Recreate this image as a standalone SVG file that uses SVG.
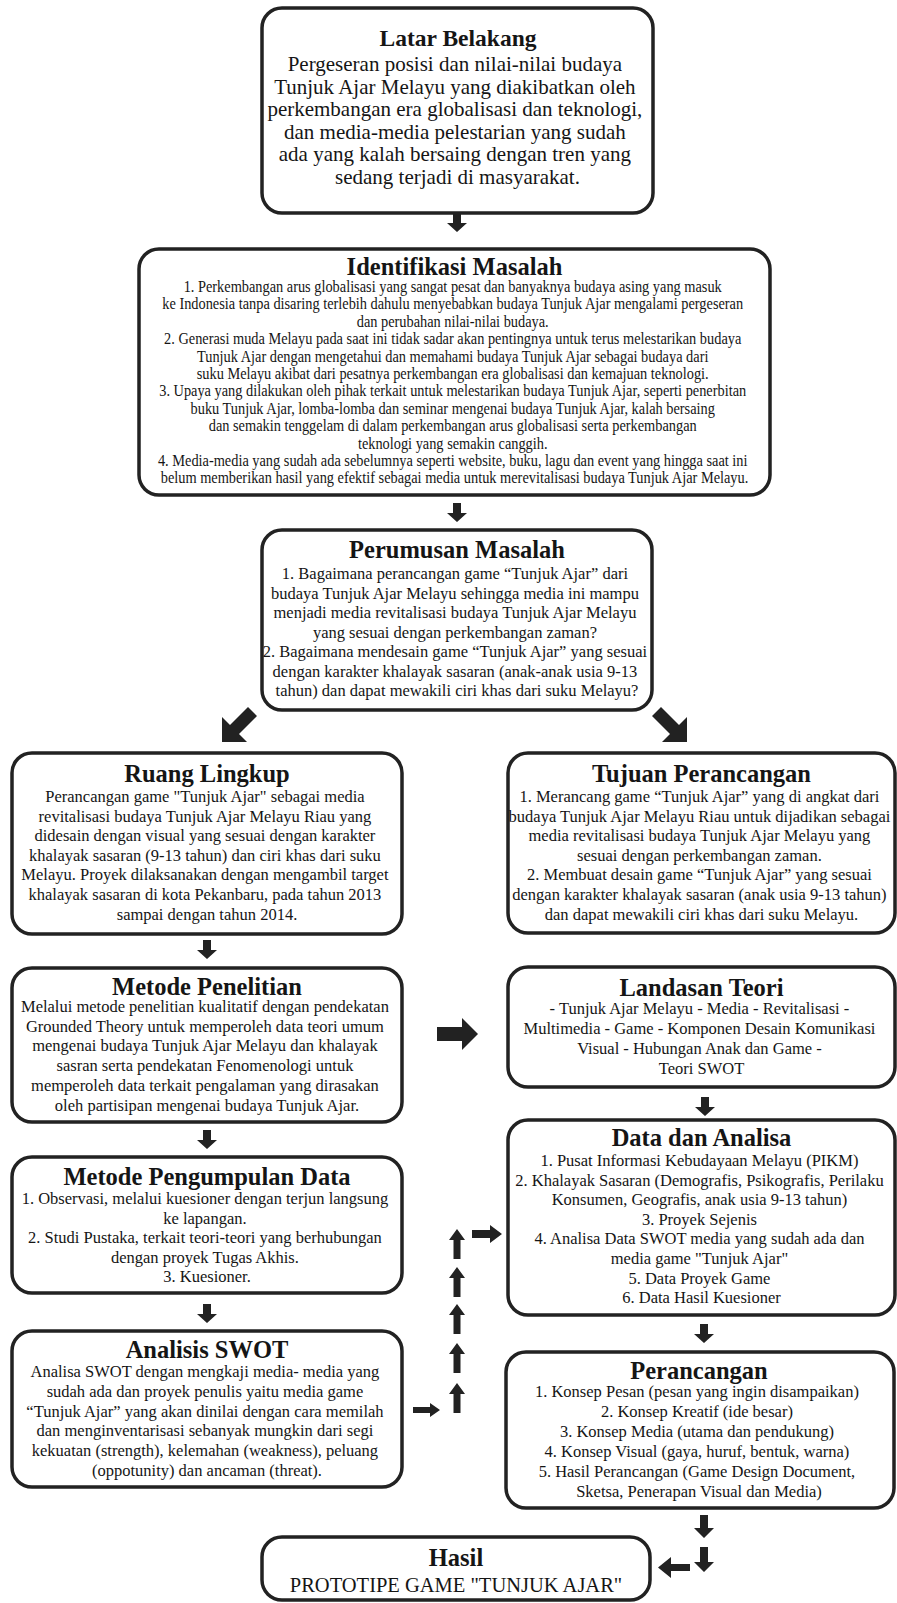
<svg xmlns="http://www.w3.org/2000/svg" xmlns:xlink="http://www.w3.org/1999/xlink" width="897" height="1603" viewBox="0 0 897 1603">
<style>
.box{fill:#fff;stroke:#222;stroke-width:3.5}
.t{font-family:"Liberation Serif","Times New Roman",serif;font-weight:bold;font-size:24.5px;fill:#151515;text-anchor:middle}
.b{font-family:"Liberation Serif","Times New Roman",serif;font-size:16.5px;fill:#151515;text-anchor:middle}
.b21{font-size:21px}
.b20{font-size:20.5px}
.t23{font-size:23.5px}
.ar{fill:#222}
</style>
<defs>
<path id="ad" d="M-4,0 H4 V10 H10 L0,19 L-10,10 H-4 Z"/>
<path id="au" d="M0,0 L8,11 H3.5 V30 H-3.5 V11 H-8 Z"/>
</defs>
<rect width="897" height="1603" fill="#fff"/>

<g id="latar">
<rect class="box" x="262" y="8" width="391" height="205" rx="20"/>
<text class="t t23" x="458" y="46">Latar Belakang</text>
<text class="b b21">
<tspan x="457.5" y="71">Pergeseran posisi dan nilai-nilai budaya</tspan>
<tspan x="457.5" y="93.5">Tunjuk Ajar Melayu yang diakibatkan oleh</tspan>
<tspan x="457.5" y="116">perkembangan era globalisasi dan teknologi,</tspan>
<tspan x="457.5" y="138.5">dan media-media pelestarian yang sudah</tspan>
<tspan x="457.5" y="161">ada yang kalah bersaing dengan tren yang</tspan>
<tspan x="457.5" y="183.5">sedang terjadi di masyarakat.</tspan>
</text>
</g>

<g id="identifikasi">
<rect class="box" x="139" y="249" width="631" height="246" rx="20"/>
<text class="t" x="454.5" y="275">Identifikasi Masalah</text>
<g transform="matrix(0.87 0 0 1 59.1 0)">
<text class="b">
<tspan x="454.5" y="292">1. Perkembangan arus globalisasi yang sangat pesat dan banyaknya budaya asing yang masuk</tspan>
<tspan x="454.5" y="309.4">ke Indonesia tanpa disaring terlebih dahulu menyebabkan budaya Tunjuk Ajar mengalami pergeseran</tspan>
<tspan x="454.5" y="326.8">dan perubahan nilai-nilai budaya.</tspan>
<tspan x="454.5" y="344.2">2. Generasi muda Melayu pada saat ini tidak sadar akan pentingnya untuk terus melestarikan budaya</tspan>
<tspan x="454.5" y="361.6">Tunjuk Ajar dengan mengetahui dan memahami budaya Tunjuk Ajar sebagai budaya dari</tspan>
<tspan x="454.5" y="379">suku Melayu akibat dari pesatnya perkembangan era globalisasi dan kemajuan teknologi.</tspan>
<tspan x="454.5" y="396.4">3. Upaya yang dilakukan oleh pihak terkait untuk melestarikan budaya Tunjuk Ajar, seperti penerbitan</tspan>
<tspan x="454.5" y="413.8">buku Tunjuk Ajar, lomba-lomba dan seminar mengenai budaya Tunjuk Ajar, kalah bersaing</tspan>
<tspan x="454.5" y="431.2">dan semakin tenggelam di dalam perkembangan arus globalisasi serta perkembangan</tspan>
<tspan x="454.5" y="448.6">teknologi yang semakin canggih.</tspan>
<tspan x="454.5" y="466">4. Media-media yang sudah ada sebelumnya seperti website, buku, lagu dan event yang hingga saat ini</tspan>
<tspan x="454.5" y="483.4">belum memberikan hasil yang efektif sebagai media untuk merevitalisasi budaya Tunjuk Ajar Melayu.</tspan>
</text>
</g>
</g>

<g id="perumusan">
<rect class="box" x="262" y="530" width="390" height="180" rx="20"/>
<text class="t" x="457" y="558">Perumusan Masalah</text>
<text class="b">
<tspan x="457" y="579">1. Bagaimana perancangan game “Tunjuk Ajar” dari</tspan>
<tspan x="457" y="598.5">budaya Tunjuk Ajar Melayu sehingga media ini mampu</tspan>
<tspan x="457" y="618">menjadi media revitalisasi budaya Tunjuk Ajar Melayu</tspan>
<tspan x="457" y="637.5">yang sesuai dengan perkembangan zaman?</tspan>
<tspan x="457" y="657">2. Bagaimana mendesain game “Tunjuk Ajar” yang sesuai</tspan>
<tspan x="457" y="676.5">dengan karakter khalayak sasaran (anak-anak usia 9-13</tspan>
<tspan x="457" y="696">tahun) dan dapat mewakili ciri khas dari suku Melayu?</tspan>
</text>
</g>

<g id="ruang">
<rect class="box" x="12" y="753" width="390" height="181" rx="20"/>
<text class="t" x="207" y="782">Ruang Lingkup</text>
<text class="b">
<tspan x="207" y="802">Perancangan game "Tunjuk Ajar" sebagai media</tspan>
<tspan x="207" y="821.6">revitalisasi budaya Tunjuk Ajar Melayu Riau yang</tspan>
<tspan x="207" y="841.2">didesain dengan visual yang sesuai dengan karakter</tspan>
<tspan x="207" y="860.8">khalayak sasaran (9-13 tahun) dan ciri khas dari suku</tspan>
<tspan x="207" y="880.4">Melayu. Proyek dilaksanakan dengan mengambil target</tspan>
<tspan x="207" y="900">khalayak sasaran di kota Pekanbaru, pada tahun 2013</tspan>
<tspan x="207" y="919.6">sampai dengan tahun 2014.</tspan>
</text>
</g>

<g id="tujuan">
<rect class="box" x="508" y="753" width="387" height="180" rx="20"/>
<text class="t" x="701.5" y="782">Tujuan Perancangan</text>
<text class="b">
<tspan x="701.5" y="802">1. Merancang game “Tunjuk Ajar” yang di angkat dari</tspan>
<tspan x="701.5" y="821.6">budaya Tunjuk Ajar Melayu Riau untuk dijadikan sebagai</tspan>
<tspan x="701.5" y="841.2">media revitalisasi budaya Tunjuk Ajar Melayu yang</tspan>
<tspan x="701.5" y="860.8">sesuai dengan perkembangan zaman.</tspan>
<tspan x="701.5" y="880.4">2. Membuat desain game “Tunjuk Ajar” yang sesuai</tspan>
<tspan x="701.5" y="900">dengan karakter khalayak sasaran (anak usia 9-13 tahun)</tspan>
<tspan x="701.5" y="919.6">dan dapat mewakili ciri khas dari suku Melayu.</tspan>
</text>
</g>

<g id="metode-penelitian">
<rect class="box" x="12" y="968" width="390" height="154" rx="20"/>
<text class="t" x="207" y="995">Metode Penelitian</text>
<text class="b">
<tspan x="207" y="1012">Melalui metode penelitian kualitatif dengan pendekatan</tspan>
<tspan x="207" y="1031.7">Grounded Theory untuk memperoleh data teori umum</tspan>
<tspan x="207" y="1051.4">mengenai budaya Tunjuk Ajar Melayu dan khalayak</tspan>
<tspan x="207" y="1071.1">sasran serta pendekatan Fenomenologi untuk</tspan>
<tspan x="207" y="1090.8">memperoleh data terkait pengalaman yang dirasakan</tspan>
<tspan x="207" y="1110.5">oleh partisipan mengenai budaya Tunjuk Ajar.</tspan>
</text>
</g>

<g id="landasan">
<rect class="box" x="508" y="967" width="387" height="120" rx="20"/>
<text class="t" x="701.5" y="996">Landasan Teori</text>
<text class="b">
<tspan x="701.5" y="1014">- Tunjuk Ajar Melayu - Media - Revitalisasi -</tspan>
<tspan x="701.5" y="1034">Multimedia - Game - Komponen Desain Komunikasi</tspan>
<tspan x="701.5" y="1054">Visual - Hubungan Anak dan Game -</tspan>
<tspan x="701.5" y="1074">Teori SWOT</tspan>
</text>
</g>

<g id="pengumpulan">
<rect class="box" x="12" y="1157" width="390" height="136" rx="20"/>
<text class="t" x="207" y="1185">Metode Pengumpulan Data</text>
<text class="b">
<tspan x="207" y="1204">1. Observasi, melalui kuesioner dengan terjun langsung</tspan>
<tspan x="207" y="1223.6">ke lapangan.</tspan>
<tspan x="207" y="1243.2">2. Studi Pustaka, terkait teori-teori yang berhubungan</tspan>
<tspan x="207" y="1262.8">dengan proyek Tugas Akhis.</tspan>
<tspan x="207" y="1282.4">3. Kuesioner.</tspan>
</text>
</g>

<g id="data">
<rect class="box" x="508" y="1120" width="387" height="195" rx="20"/>
<text class="t" x="701.5" y="1146">Data dan Analisa</text>
<text class="b">
<tspan x="701.5" y="1166">1. Pusat Informasi Kebudayaan Melayu (PIKM)</tspan>
<tspan x="701.5" y="1185.6">2. Khalayak Sasaran (Demografis, Psikografis, Perilaku</tspan>
<tspan x="701.5" y="1205.2">Konsumen, Geografis, anak usia 9-13 tahun)</tspan>
<tspan x="701.5" y="1224.8">3. Proyek Sejenis</tspan>
<tspan x="701.5" y="1244.4">4. Analisa Data SWOT media yang sudah ada dan</tspan>
<tspan x="701.5" y="1264">media game "Tunjuk Ajar"</tspan>
<tspan x="701.5" y="1283.6">5. Data Proyek Game</tspan>
<tspan x="701.5" y="1303.2">6. Data Hasil Kuesioner</tspan>
</text>
</g>

<g id="swot">
<rect class="box" x="12" y="1331" width="390" height="156" rx="20"/>
<text class="t" x="207" y="1358">Analisis SWOT</text>
<text class="b">
<tspan x="207" y="1377">Analisa SWOT dengan mengkaji media- media yang</tspan>
<tspan x="207" y="1396.8">sudah ada dan proyek penulis yaitu media game</tspan>
<tspan x="207" y="1416.6">“Tunjuk Ajar” yang akan dinilai dengan cara memilah</tspan>
<tspan x="207" y="1436.4">dan menginventarisasi sebanyak mungkin dari segi</tspan>
<tspan x="207" y="1456.2">kekuatan (strength), kelemahan (weakness), peluang</tspan>
<tspan x="207" y="1476">(oppotunity) dan ancaman (threat).</tspan>
</text>
</g>

<g id="perancangan">
<rect class="box" x="506" y="1352" width="388" height="156" rx="20"/>
<text class="t" x="699" y="1379">Perancangan</text>
<text class="b">
<tspan x="699" y="1397">1. Konsep Pesan (pesan yang ingin disampaikan)</tspan>
<tspan x="699" y="1417">2. Konsep Kreatif (ide besar)</tspan>
<tspan x="699" y="1437">3. Konsep Media (utama dan pendukung)</tspan>
<tspan x="699" y="1457">4. Konsep Visual (gaya, huruf, bentuk, warna)</tspan>
<tspan x="699" y="1477">5. Hasil Perancangan (Game Design Document,</tspan>
<tspan x="699" y="1497">Sketsa, Penerapan Visual dan Media)</tspan>
</text>
</g>

<g id="hasil">
<rect class="box" x="262" y="1537" width="388" height="63" rx="20"/>
<text class="t" x="456" y="1566">Hasil</text>
<text class="b b20" x="456" y="1592">PROTOTIPE GAME "TUNJUK AJAR"</text>
</g>

<g id="connectors" class="ar">
<use xlink:href="#ad" x="457" y="213"/>
<use xlink:href="#ad" x="457" y="503"/>
<polygon points="222,742 222,717 230,725 248,707 257,716 239,734 247,742"/>
<polygon points="687,742 687,717 679,725 661,707 652,716 670,734 662,742"/>
<use xlink:href="#ad" x="207" y="940"/>
<use xlink:href="#ad" x="207" y="1130"/>
<use xlink:href="#ad" x="207" y="1304"/>
<path d="M437,1027 H462 V1018 L478,1034 L462,1050 V1041 H437 Z"/>
<use xlink:href="#ad" x="705" y="1097"/>
<use xlink:href="#ad" x="704" y="1324"/>
<path d="M700,1515 H708 V1528 H714 L704,1538 L694,1528 H700 Z"/>
<path d="M700,1547 H708 V1562 H714 L704,1572 L694,1562 H700 Z"/>
<path d="M690,1564 H671 V1557 L658,1567.5 L671,1578 V1571 H690 Z"/>
<path d="M472,1230 H490 V1225 L502,1234 L490,1243 V1238 H472 Z"/>
<path d="M413,1407 H430 V1403 L440,1410 L430,1417 V1413 H413 Z"/>
<use xlink:href="#au" x="457" y="1229"/>
<use xlink:href="#au" x="457" y="1267"/>
<use xlink:href="#au" x="457" y="1304"/>
<use xlink:href="#au" x="457" y="1343"/>
<use xlink:href="#au" x="457" y="1383"/>
</g>
</svg>
